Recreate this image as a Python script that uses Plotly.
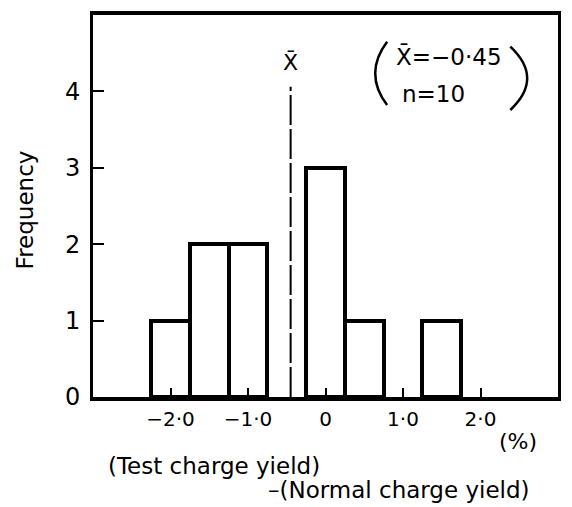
import plotly.graph_objects as go

# ---- data ----
bin_centers = [-2.0, -1.5, -1.0, 0.0, 0.5, 1.5]
frequencies = [1, 2, 2, 3, 1, 1]
bin_width = 0.5
mean_value = -0.45
n_value = 10
x_tick_vals = [-2.0, -1.0, 0.0, 1.0, 2.0]
x_tick_text = ["\u22122\u00b70", "\u22121\u00b70", "0", "1\u00b70", "2\u00b70"]
y_tick_vals = [0, 1, 2, 3, 4]
y_tick_text = ["0", "1", "2", "3", "4"]

FONT = "DejaVu Sans"
W, H = 572, 507
L, R, T, B = 93, 11, 11, 110
PW, PH = W - L - R, H - T - B


def px(xp):
    # page pixel x -> paper coordinate
    return (xp - L) / PW


def py(yp):
    # page pixel y -> paper coordinate
    return (H - B - yp) / PH


fig = go.Figure()
fig.add_trace(go.Bar(
    x=bin_centers, y=frequencies, width=[bin_width] * len(bin_centers),
    marker=dict(color="white", line=dict(color="black", width=4)),
    showlegend=False, hoverinfo="skip",
))

# mean line
fig.add_shape(type="line", xref="x", yref="y",
              x0=mean_value, x1=mean_value, y0=0, y1=4.06,
              line=dict(color="black", width=2, dash="30px,4px"))
fig.add_annotation(x=mean_value, y=4.38, xref="x", yref="y",
                   xanchor="center", yanchor="middle",
                   text="X\u0304", showarrow=False,
                   font=dict(family=FONT, size=22, color="black"))

# stats box text
fig.add_annotation(x=px(396), y=py(53), xref="paper", yref="paper",
                   xanchor="left", yanchor="middle",
                   text=f"X\u0304=\u2212{abs(mean_value):.2f}".replace(".", "\u00b7"),
                   showarrow=False, font=dict(family=FONT, size=23, color="black"))
fig.add_annotation(x=px(402), y=py(91), xref="paper", yref="paper",
                   xanchor="left", yanchor="middle",
                   text=f"n={n_value}", showarrow=False,
                   font=dict(family=FONT, size=23, color="black"))
# big parentheses (page-pixel geometry converted to paper space)
lp_top, lp_mid, lp_bot = (389, 38), (377, 70), (389, 102)
rp_top, rp_mid, rp_bot = (513, 43), (530, 75), (513, 107)


def paren_path(top, mid, bot):
    cx = 2 * mid[0] - 0.5 * (top[0] + bot[0])
    cy = 2 * mid[1] - 0.5 * (top[1] + bot[1])
    return (f"M {px(top[0])},{py(top[1])} Q {px(cx)},{py(cy)} "
            f"{px(bot[0])},{py(bot[1])}")


for p in (paren_path(lp_top, lp_mid, lp_bot), paren_path(rp_top, rp_mid, rp_bot)):
    fig.add_shape(type="path", xref="paper", yref="paper", path=p,
                  line=dict(color="black", width=2.5))

# axis text
fig.add_annotation(x=px(25), y=py(208), xref="paper", yref="paper",
                   xanchor="center", yanchor="middle",
                   text="Frequency", textangle=-90, showarrow=False,
                   font=dict(family=FONT, size=23, color="black"))
fig.add_annotation(x=px(521), y=py(442), xref="paper", yref="paper",
                   xanchor="center", yanchor="middle",
                   text="(%)", showarrow=False,
                   font=dict(family=FONT, size=22, color="black"))
fig.add_annotation(x=px(215), y=py(467), xref="paper", yref="paper",
                   xanchor="center", yanchor="middle",
                   text="(Test charge yield)", showarrow=False,
                   font=dict(family=FONT, size=23, color="black"))
fig.add_annotation(x=px(401), y=py(491), xref="paper", yref="paper",
                   xanchor="center", yanchor="middle",
                   text="\u2013(Normal charge yield)", showarrow=False,
                   borderpad=0,
                   font=dict(family=FONT, size=23, color="black"))

fig.update_xaxes(range=[-3, 3], tickvals=x_tick_vals, ticktext=x_tick_text,
                 ticks="inside", ticklen=9, tickwidth=2, tickcolor="black",
                 showline=True, linewidth=4, linecolor="black", mirror=True,
                 showgrid=False, zeroline=False, ticklabelstandoff=1,
                 tickfont=dict(family=FONT, size=20, color="black"))
fig.update_yaxes(range=[0, 5], tickvals=y_tick_vals, ticktext=y_tick_text,
                 ticks="inside", ticklen=11, tickwidth=2, tickcolor="black",
                 showline=True, linewidth=3, linecolor="black", mirror=True,
                 showgrid=False, zeroline=False, ticklabelstandoff=5,
                 tickfont=dict(family=FONT, size=24, color="black"))

fig.update_layout(
    width=W, height=H,
    margin=dict(l=L, r=R, t=T, b=B),
    paper_bgcolor="white", plot_bgcolor="white",
    bargap=0, showlegend=False,
)

fig.write_html(
    "out.html",
    config={"displayModeBar": False},
    post_script="document.body.style.margin='0';document.body.style.overflow='hidden';",
)
